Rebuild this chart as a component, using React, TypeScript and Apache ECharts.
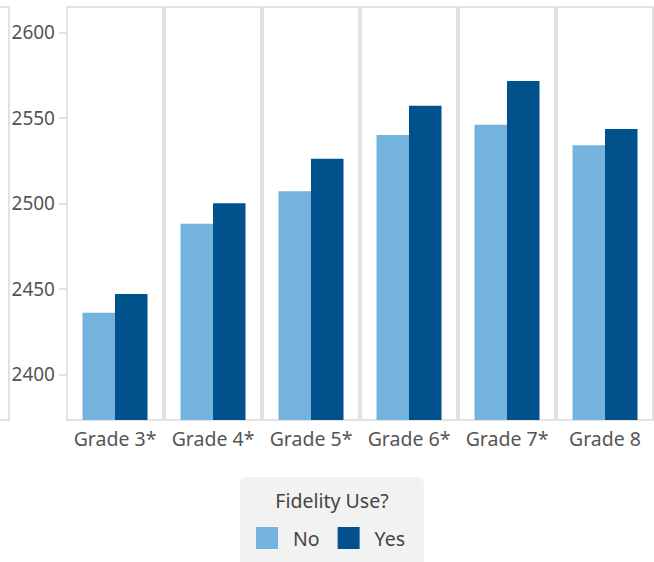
import React, { useEffect, useRef } from "react";
import * as echarts from "echarts";

const grades = ["Grade 3*", "Grade 4*", "Grade 5*", "Grade 6*", "Grade 7*", "Grade 8"];
const noValues = [2436, 2488, 2507, 2540, 2546, 2534];
const yesValues = [2447, 2500, 2526, 2557, 2571.5, 2543.5];
const yTicks = [2400, 2450, 2500, 2550, 2600];
const seriesNames = ["No", "Yes"];
const colors = ["#74b3dd", "#00518c"];
const legendTitle = "Fidelity Use?";

const FONT = "'Noto Sans', sans-serif";
const TEXT = "#555555";
const BORDER = "#d9d9d9";

export default function App() {
  const ref = useRef<HTMLDivElement>(null);
  useEffect(() => {
    document.body.style.margin = "0";
    const chart = echarts.init(ref.current!, null, { renderer: "svg" });
    const grid: any[] = [];
    const xAxis: any[] = [];
    const yAxis: any[] = [];
    const series: any[] = [];
    grades.forEach((g, i) => {
      grid.push({
        left: 67 + i * 98,
        top: 7,
        width: 96,
        height: 413,
        show: true,
        borderColor: BORDER,
        borderWidth: 1.5,
        backgroundColor: "#ffffff",
      });
      xAxis.push({
        type: "category",
        gridIndex: i,
        data: [g],
        axisLine: { show: false },
        axisTick: { show: false },
        axisLabel: { fontSize: 19.5, color: TEXT, fontFamily: FONT, margin: 8 },
      });
      yAxis.push({
        type: "value",
        gridIndex: i,
        min: 2373.3,
        max: 2614.8,
        axisLine: { show: false },
        splitLine: { show: false },
        axisTick: i === 0
          ? { show: true, length: 8, customValues: yTicks, lineStyle: { color: BORDER, width: 1.5 } }
          : { show: false },
        axisLabel: i === 0
          ? {
              show: true,
              customValues: yTicks,
              fontSize: 19,
              color: TEXT,
              fontFamily: FONT,
              margin: 12,
              formatter: (v: number) => String(v),
            }
          : { show: false },
      });
      series.push({
        name: seriesNames[0],
        type: "bar",
        xAxisIndex: i,
        yAxisIndex: i,
        data: [noValues[i]],
        barWidth: 32.5,
        barGap: "0%",
        itemStyle: { color: colors[0] },
      });
      series.push({
        name: seriesNames[1],
        type: "bar",
        xAxisIndex: i,
        yAxisIndex: i,
        data: [yesValues[i]],
        barWidth: 32.5,
        barGap: "0%",
        itemStyle: { color: colors[1] },
      });
    });
    chart.setOption({
      animation: false,
      color: colors,
      grid,
      xAxis,
      yAxis,
      series,
      legend: {
        data: seriesNames,
        left: 256,
        top: 527,
        padding: 0,
        itemWidth: 22,
        itemHeight: 22,
        itemGap: 18,
        icon: "rect",
        textStyle: { fontSize: 19.5, color: "#444444", fontFamily: FONT, padding: [0, 0, 0, 10] },
      },
      graphic: [
        {
          type: "rect",
          shape: { x: -40, y: 7, width: 49, height: 413 },
          style: { fill: "none", stroke: BORDER, lineWidth: 1.5 },
          silent: true,
        },
        {
          type: "rect",
          z: -10,
          shape: { x: 240, y: 477, width: 184, height: 100, r: 8 },
          style: { fill: "#f2f2f2" },
          silent: true,
        },
        {
          type: "text",
          x: 332,
          y: 500,
          style: {
            text: legendTitle,
            fontSize: 19.5,
            fill: "#444444",
            fontFamily: FONT,
            align: "center",
            verticalAlign: "middle",
          },
        },
      ],
    });
    return () => chart.dispose();
  }, []);
  return <div ref={ref} style={{ width: 654, height: 562 }} />;
}
